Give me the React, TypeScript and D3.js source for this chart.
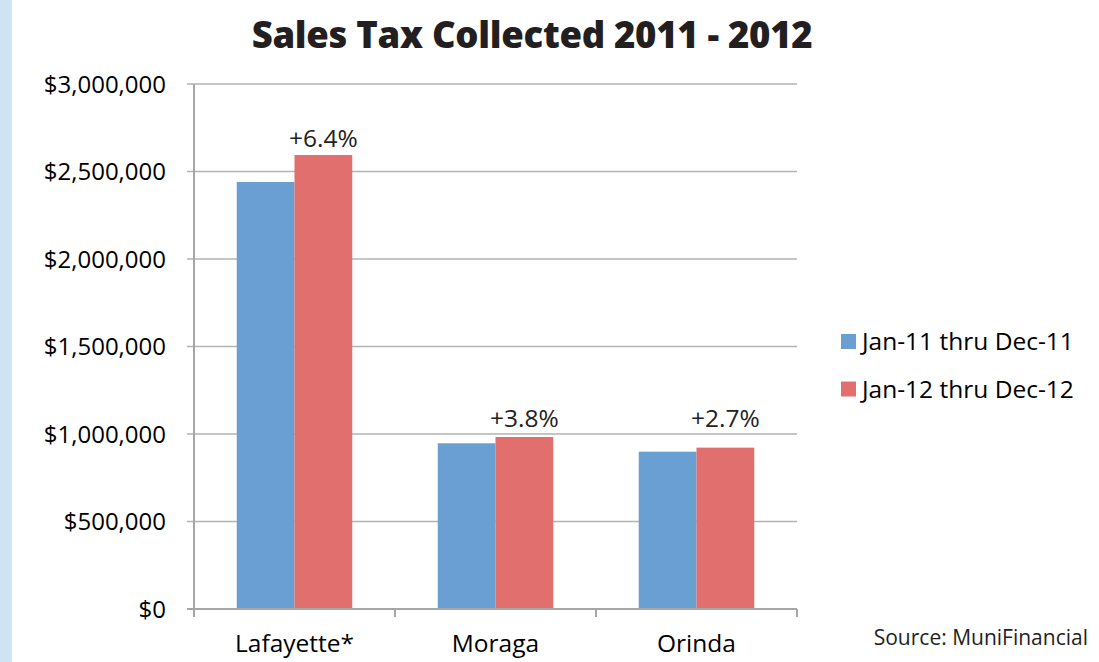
import React, { useEffect, useRef } from "react";
import * as d3 from "d3";

const categories = ["Lafayette*", "Moraga", "Orinda"];
const seriesNames = ["Jan-11 thru Dec-11", "Jan-12 thru Dec-12"];
const sales2011 = [2440000, 947000, 899000];
const sales2012 = [2594000, 983000, 922000];
const changeLabels = ["+6.4%", "+3.8%", "+2.7%"];
const labelLevels = [2640000, 1040000, 1040000];
const yTicks = [0, 500000, 1000000, 1500000, 2000000, 2500000, 3000000];
const colors = ["#699fd3", "#e06f6d"];

const W = 1099;
const H = 662;
const FONT = "'Open Sans', sans-serif";

export default function App() {
  const ref = useRef<SVGSVGElement>(null);

  useEffect(() => {
    const svg = d3.select(ref.current);
    svg.selectAll("*").remove();

    const left = 194, right = 797, top = 84, bottom = 609;
    const x = d3.scaleBand<string>().domain(categories).range([left, right]).paddingInner(0).paddingOuter(0);
    const groupW = 115.5;
    const inner = d3.scaleBand<number>().domain([0, 1]).range([0, groupW]);
    const y = d3.scaleLinear().domain([0, 3000000]).range([bottom, top]);

    // side strip
    svg.append("rect").attr("x", 0).attr("y", 0).attr("width", 12).attr("height", H).attr("fill", "#cfe4f2");

    // title
    svg.append("text").attr("x", 532).attr("y", 48).attr("text-anchor", "middle")
      .attr("font-family", FONT).attr("font-weight", 800).attr("font-size", 36.5)
      .attr("fill", "#231f20").attr("letter-spacing", -0.3).text("Sales Tax Collected 2011 - 2012");

    // gridlines
    const grid = svg.append("g");
    yTicks.forEach((t) => {
      grid.append("line").attr("x1", left - 7).attr("x2", right).attr("y1", y(t)).attr("y2", y(t))
        .attr("stroke", "#b3b3b3").attr("stroke-width", 1.5);
    });

    // y labels
    const fmt = d3.format("$,.0f");
    yTicks.forEach((t) => {
      svg.append("text").attr("x", 166).attr("y", y(t) + 8.5).attr("text-anchor", "end")
        .attr("font-family", FONT).attr("font-size", 24).attr("fill", "#000").text(fmt(t));
    });

    // bars
    const series = [sales2011, sales2012];
    categories.forEach((c, i) => {
      const gx = (x(c) as number) + (x.bandwidth() - groupW) / 2;
      series.forEach((s, k) => {
        svg.append("rect").attr("x", gx + (inner(k) as number)).attr("y", y(s[i]))
          .attr("width", inner.bandwidth()).attr("height", bottom - y(s[i]))
          .attr("fill", colors[k]);
      });
      const cx = gx + (inner(1) as number) + inner.bandwidth() / 2;
      svg.append("text").attr("x", cx).attr("y", y(labelLevels[i])).attr("text-anchor", "middle")
        .attr("font-family", FONT).attr("font-size", 24.5).attr("fill", "#222").text(changeLabels[i]);
      svg.append("text").attr("x", (x(c) as number) + x.bandwidth() / 2).attr("y", 652)
        .attr("text-anchor", "middle").attr("font-family", FONT).attr("font-size", 24.5)
        .attr("fill", "#000").text(c);
    });

    // axes
    svg.append("line").attr("x1", left).attr("x2", left).attr("y1", top).attr("y2", bottom + 1)
      .attr("stroke", "#a6a6a6").attr("stroke-width", 2);
    svg.append("line").attr("x1", left - 7).attr("x2", right).attr("y1", bottom).attr("y2", bottom)
      .attr("stroke", "#a6a6a6").attr("stroke-width", 2);
    [left, ...categories.map((c) => (x(c) as number) + x.bandwidth())].forEach((tx) => {
      svg.append("line").attr("x1", tx).attr("x2", tx).attr("y1", bottom).attr("y2", bottom + 8)
        .attr("stroke", "#a6a6a6").attr("stroke-width", 2);
    });

    // legend
    seriesNames.forEach((n, k) => {
      const ly = 334 + k * 47.5;
      svg.append("rect").attr("x", 841).attr("y", ly).attr("width", 15).attr("height", 15).attr("fill", colors[k]);
      svg.append("text").attr("x", 862).attr("y", ly + 16).attr("font-family", FONT).attr("font-size", 24.5)
        .attr("fill", "#000").text(n);
    });

    // source
    svg.append("text").attr("x", 1088).attr("y", 645).attr("text-anchor", "end").attr("font-family", FONT)
      .attr("font-size", 21).attr("fill", "#231f20").text("Source: MuniFinancial");
  }, []);

  return (
    <div style={{ position: "absolute", left: 0, top: 0 }}>
      <svg ref={ref} width={W} height={H} style={{ display: "block", background: "#fff" }} />
    </div>
  );
}
